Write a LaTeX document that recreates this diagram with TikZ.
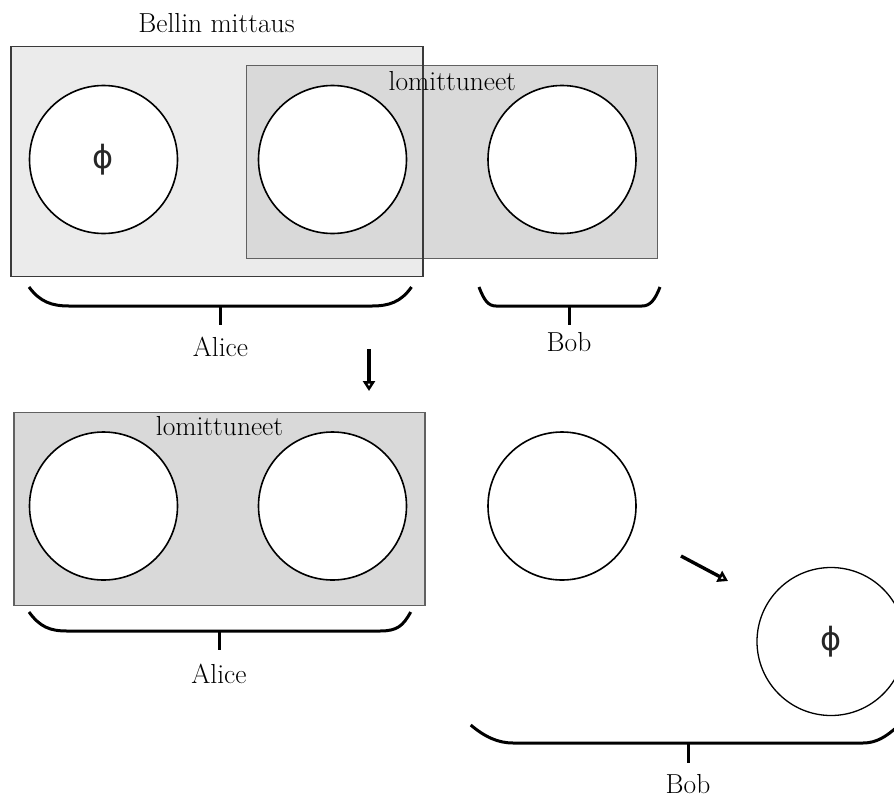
\documentclass[tikz,border=0pt]{standalone}
\usepackage{fontspec}
\newfontfamily\symfont{DejaVu Sans}
\usetikzlibrary{arrows.meta}
\definecolor{lightfill}{HTML}{EBEBEB}
\definecolor{darkfill}{HTML}{D9D9D9}
\definecolor{boxline}{HTML}{3A3A3A}
\tikzset{
  lbl/.style={font=\fontsize{27.5}{32}\selectfont, anchor=base, inner sep=0pt},
  ball/.style={circle, draw=black, fill=white, line width=1.6pt, minimum size=148pt, inner sep=0pt},
  thinball/.style={ball, line width=1.3pt},
  phisym/.style={font=\symfont\fontsize{32}{34}\selectfont, text=black!85},
  lightbox/.style={rectangle, fill=lightfill, minimum width=412pt, minimum height=230pt, inner sep=0pt, outer sep=0pt},
  darkbox/.style={rectangle, fill=darkfill, draw=boxline!80, line width=1.1pt, minimum width=411pt, minimum height=193pt, inner sep=0pt, outer sep=0pt},
  brace/.style={line width=3pt},
  arr/.style={line width=3.4pt, -{Triangle[open, length=10pt, width=12pt]}}
}
\begin{document}
\begin{tikzpicture}[x=1pt, y=-1pt]
\useasboundingbox (0,0) rectangle (894,798);
\begin{scope}
\clip (0,0) rectangle (894,798);
% ---------- top row ----------
\node[lightbox] (bell) at (217,161.8) {};
\node[darkbox] (ent1) at (452.3,161.7) {};
\draw[boxline, line width=1.1pt] (bell.south west) rectangle (bell.north east);
\node[lbl] (bellt) at (216.5,32) {Bellin mittaus};
\node[lbl] (ent1t) at (452.3,90) {lomittuneet};
\node[ball] (a1) at (103.5,159.5) {};
\node[phisym] (phi1) at (a1.center) {ϕ};
\node[ball] (a2) at (332.5,159.5) {};
\node[ball] (b1) at (562,159.5) {};
% braces top
\draw[brace] (29,287) .. controls (40,302) and (52,306) .. (69,306) -- (372,306) .. controls (389,306) and (401,302) .. (411.5,287);
\coordinate (alicetop) at (220.5,306);
\coordinate (alicetopend) at (220.5,325);
\draw[brace] (alicetop) -- (alicetopend);
\node[lbl] (alice1) at (220.5,356) {Alice};
\draw[brace] (479,287) .. controls (484,300) and (488,306) .. (496,306) -- (642,306) .. controls (650,306) and (655,300) .. (660,287);
\coordinate (bobtop) at (569,306);
\coordinate (bobtopend) at (569,325);
\draw[brace] (bobtop) -- (bobtopend);
\node[lbl] (bob1) at (569,351) {Bob};
% down arrow
\coordinate (d1) at (369,349);
\coordinate (d2) at (369,391);
\draw[arr] (d1) -- (d2);
% ---------- bottom row ----------
\node[darkbox] (ent2) at (219.5,508.7) {};
\node[lbl] (ent2t) at (219.5,435.7) {lomittuneet};
\node[ball] (a3) at (103.5,506) {};
\node[ball] (a4) at (332.5,506) {};
\node[ball] (b2) at (562,506) {};
\draw[brace] (29,612) .. controls (40,627) and (50,631) .. (67,631) -- (380,631) .. controls (397,631) and (403,626) .. (410.7,612);
\coordinate (alicebot) at (219,631);
\coordinate (alicebotend) at (219,650);
\draw[brace] (alicebot) -- (alicebotend);
\node[lbl] (alice2) at (219,683) {Alice};
% diagonal arrow
\coordinate (e1) at (681,556);
\coordinate (e2) at (728,581);
\draw[arr] (e1) -- (e2);
\node[thinball] (b3) at (831,641.5) {};
\node[phisym] (phi2) at (b3.center) {ϕ};
\draw[brace] (470.7,725) .. controls (485,737) and (498,743) .. (513,743) -- (863,743) .. controls (876,743) and (886,737) .. (898,726);
\coordinate (bobbot) at (688,743);
\coordinate (bobbotend) at (688,763);
\draw[brace] (bobbot) -- (bobbotend);
\node[lbl] (bob2) at (688,793.5) {Bob};
\end{scope}
\end{tikzpicture}
\end{document}
